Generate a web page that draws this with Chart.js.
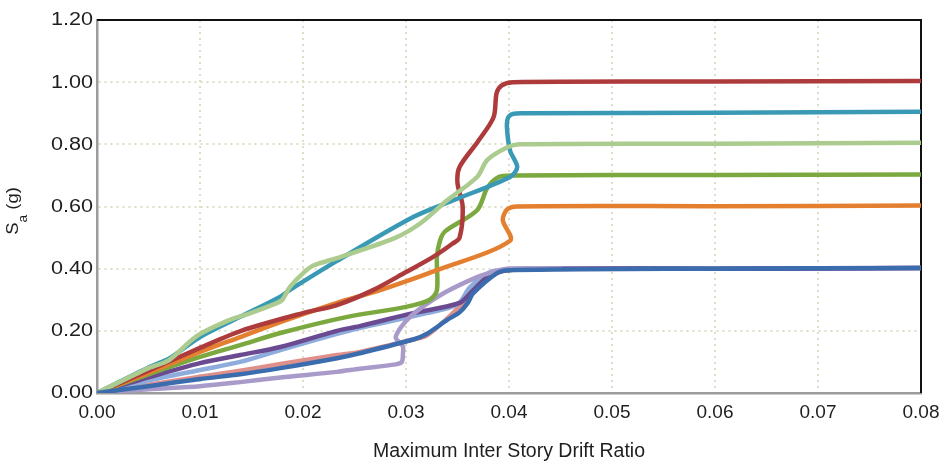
<!DOCTYPE html>
<html>
<head>
<meta charset="utf-8">
<script src="https://cdn.jsdelivr.net/npm/chart.js@4/dist/chart.umd.min.js"></script>
<style>
html,body{margin:0;padding:0;background:#fff;}
#wrap{width:943px;height:463px;position:relative;}
</style>
</head>
<body>
<div id="wrap"><canvas id="c" width="943" height="463"></canvas></div>
<script>
// Tick labels
const xTicks = [0.00, 0.01, 0.02, 0.03, 0.04, 0.05, 0.06, 0.07, 0.08];
const yTicks = [0.00, 0.20, 0.40, 0.60, 0.80, 1.00, 1.20];
const xTitle = 'Maximum Inter Story Drift Ratio';

// Series: Maximum inter story drift ratio (x) vs Sa (y)
const redX = [0, 0.005, 0.010, 0.014, 0.020, 0.0233, 0.0268, 0.030, 0.0326, 0.0345, 0.0352, 0.0355, 0.0350, 0.0352, 0.0370, 0.0385, 0.0388, 0.0393, 0.0404, 0.060, 0.080];
const redY = [0, 0.072, 0.145, 0.200, 0.257, 0.283, 0.331, 0.389, 0.437, 0.480, 0.500, 0.600, 0.675, 0.727, 0.810, 0.887, 0.965, 0.990, 1.000, 1.002, 1.004];

const tealX = [0, 0.005, 0.0071, 0.010, 0.0139, 0.0178, 0.0187, 0.0233, 0.0307, 0.0346, 0.0401, 0.0408, 0.0401, 0.0398, 0.0399, 0.0404, 0.0415, 0.060, 0.080];
const tealY = [0, 0.082, 0.113, 0.180, 0.245, 0.310, 0.331, 0.425, 0.566, 0.620, 0.695, 0.727, 0.780, 0.855, 0.885, 0.898, 0.900, 0.902, 0.905];

const lgreenX = [0, 0.005, 0.007, 0.009, 0.010, 0.0129, 0.0149, 0.0175, 0.018, 0.0187, 0.020, 0.021, 0.0233, 0.029, 0.0314, 0.034, 0.0369, 0.0379, 0.0398, 0.041, 0.060, 0.080];
const lgreenY = [0, 0.080, 0.106, 0.165, 0.190, 0.235, 0.257, 0.290, 0.300, 0.340, 0.385, 0.410, 0.434, 0.500, 0.546, 0.620, 0.695, 0.750, 0.790, 0.800, 0.802, 0.805];

const greenX = [0, 0.005, 0.010, 0.0139, 0.0178, 0.0243, 0.030, 0.0323, 0.0330, 0.0330, 0.0333, 0.0338, 0.0369, 0.0379, 0.0390, 0.0404, 0.060, 0.080];
const greenY = [0, 0.060, 0.116, 0.154, 0.193, 0.245, 0.277, 0.300, 0.330, 0.437, 0.490, 0.520, 0.588, 0.660, 0.695, 0.700, 0.701, 0.703];

const orangeX = [0, 0.005, 0.010, 0.0139, 0.0178, 0.0233, 0.0275, 0.033, 0.0401, 0.0394, 0.0398, 0.0408, 0.060, 0.080];
const orangeY = [0, 0.065, 0.132, 0.180, 0.228, 0.290, 0.331, 0.395, 0.490, 0.556, 0.590, 0.600, 0.601, 0.603];

const purpleX = [0, 0.005, 0.010, 0.0139, 0.0178, 0.0233, 0.0255, 0.0307, 0.0352, 0.0365, 0.0379, 0.0398, 0.045, 0.060, 0.080];
const purpleY = [0, 0.050, 0.096, 0.122, 0.148, 0.200, 0.215, 0.257, 0.290, 0.330, 0.373, 0.395, 0.400, 0.400, 0.402];

const lblueX = [0, 0.005, 0.010, 0.0139, 0.0178, 0.0233, 0.0255, 0.032, 0.035, 0.0362, 0.0379, 0.039, 0.045, 0.060, 0.080];
const lblueY = [0, 0.040, 0.074, 0.100, 0.138, 0.190, 0.209, 0.257, 0.285, 0.340, 0.385, 0.395, 0.400, 0.400, 0.402];

const pinkX = [0, 0.005, 0.010, 0.0139, 0.0178, 0.0233, 0.0255, 0.0307, 0.032, 0.034, 0.036, 0.0385, 0.0404, 0.060, 0.080];
const pinkY = [0, 0.027, 0.052, 0.072, 0.093, 0.122, 0.132, 0.172, 0.185, 0.240, 0.305, 0.380, 0.397, 0.400, 0.402];

const blueX = [0, 0.005, 0.010, 0.0139, 0.0178, 0.0233, 0.0255, 0.0307, 0.032, 0.034, 0.0352, 0.036, 0.0365, 0.0388, 0.040, 0.060, 0.080];
const blueY = [0, 0.022, 0.045, 0.060, 0.080, 0.112, 0.128, 0.172, 0.190, 0.235, 0.260, 0.290, 0.320, 0.385, 0.395, 0.400, 0.402];

const lavX = [0, 0.005, 0.010, 0.0139, 0.0178, 0.0233, 0.0255, 0.029, 0.0296, 0.0297, 0.0297, 0.0290, 0.0304, 0.0336, 0.0369, 0.0385, 0.0398, 0.045];
const lavY = [0, 0.012, 0.022, 0.035, 0.050, 0.068, 0.078, 0.092, 0.100, 0.125, 0.150, 0.180, 0.245, 0.320, 0.373, 0.390, 0.400, 0.400];

function pts(xs, ys) { return xs.map((x, i) => ({x: x, y: ys[i]})); }
function ds(xs, ys, color) {
  return {data: pts(xs, ys), borderColor: color, backgroundColor: color, borderWidth: 4.5,
          pointRadius: 0, tension: 0.3, showLine: true, fill: false, borderCapStyle: 'round', borderJoinStyle: 'round'};
}

const FONT = "'Liberation Sans', Arial, sans-serif";
const TXT = '#1e1e1e';

const frame = {
  id: 'frame',
  beforeDatasetsDraw(chart) {
    const {ctx, chartArea: a} = chart;
    ctx.save();
    ctx.strokeStyle = '#111';
    ctx.lineWidth = 2;
    ctx.beginPath();
    ctx.moveTo(a.left, a.top);
    ctx.lineTo(a.right, a.top);
    ctx.lineTo(a.right, a.bottom);
    ctx.stroke();
    ctx.restore();
  },
  afterDraw(chart) {
    const {ctx, chartArea: a} = chart;
    const ys = chart.scales.y;
    const xs = chart.scales.x;
    ctx.save();
    ctx.fillStyle = TXT;
    // y tick labels (slightly wide lettering as in the reference)
    ctx.font = '18px ' + FONT;
    ctx.textAlign = 'right';
    ctx.textBaseline = 'middle';
    yTicks.forEach(v => {
      const py = ys.getPixelForValue(v);
      ctx.save();
      ctx.translate(93, py + 0.5);
      ctx.scale(1.2, 1);
      ctx.fillText(v.toFixed(2), 0, 0);
      ctx.restore();
    });
    // x tick labels
    ctx.font = '19px ' + FONT;
    ctx.textAlign = 'center';
    ctx.textBaseline = 'middle';
    xTicks.forEach(v => {
      ctx.fillText(v.toFixed(2), xs.getPixelForValue(v), 413);
    });
    // x title
    ctx.font = '19.5px ' + FONT;
    ctx.fillText(xTitle, (a.left + a.right) / 2, 452);
    // y title with subscript
    ctx.translate(18, 211);
    ctx.rotate(-Math.PI / 2);
    ctx.scale(1.15, 1);
    ctx.textAlign = 'left';
    ctx.textBaseline = 'alphabetic';
    ctx.font = '16px ' + FONT;
    const wS = ctx.measureText('S').width;
    const wg = ctx.measureText(' (g)').width;
    ctx.font = '12px ' + FONT;
    const wa = ctx.measureText('a').width;
    const total = wS + wa + wg;
    const x0 = -total / 2;
    ctx.font = '16px ' + FONT;
    ctx.fillText('S', x0, 0);
    ctx.fillText(' (g)', x0 + wS + wa, 0);
    ctx.font = '12px ' + FONT;
    ctx.fillText('a', x0 + wS, 9);
    ctx.restore();
  }
};

new Chart(document.getElementById('c'), {
  type: 'scatter',
  data: {
    datasets: [
      ds(blueX, blueY, '#3b6cae'),
      ds(lgreenX, lgreenY, '#abcb8f'),
      ds(tealX, tealY, '#3a9ab6'),
      ds(redX, redY, '#ae3b3b'),
      ds(orangeX, orangeY, '#e47f2f'),
      ds(greenX, greenY, '#7ba83f'),
      ds(lavX, lavY, '#a99bc9'),
      ds(purpleX, purpleY, '#6a4b91'),
      ds(lblueX, lblueY, '#8eacdc'),
      ds(pinkX, pinkY, '#e0908b')
    ]
  },
  options: {
    responsive: false,
    animation: false,
    devicePixelRatio: 1,
    layout: {padding: {left: 0, right: 22, top: 20, bottom: 0}},
    plugins: {legend: {display: false}, tooltip: {enabled: false}},
    scales: {
      x: {
        type: 'linear', min: 0, max: 0.08,
        afterBuildTicks(s) { s.ticks = xTicks.map(v => ({value: v})); },
        afterFit(s) { s.height = 70; },
        ticks: {display: false},
        grid: {color: '#deddc6', lineWidth: 2, drawTicks: false},
        border: {color: '#9c9c9c', width: 2.5, dash: [2, 4]}
      },
      y: {
        type: 'linear', min: 0, max: 1.2,
        afterBuildTicks(s) { s.ticks = yTicks.map(v => ({value: v})); },
        afterFit(s) { s.width = 97; },
        ticks: {display: false},
        grid: {color: '#deddc6', lineWidth: 2, drawTicks: false},
        border: {color: '#9c9c9c', width: 2.5, dash: [2, 4]}
      }
    }
  },
  plugins: [frame]
});
</script>
</body>
</html>
